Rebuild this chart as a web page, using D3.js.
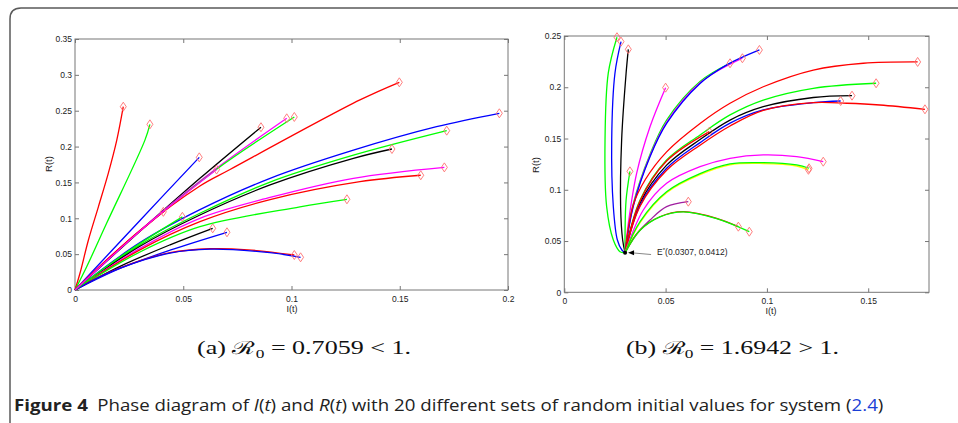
<!DOCTYPE html>
<html><head><meta charset="utf-8">
<script src="https://cdn.jsdelivr.net/npm/d3@7"></script>
<style>html,body{margin:0;padding:0;background:#fff;} svg{display:block;}</style>
</head><body>
<svg id="c" width="958" height="423"></svg>
<script>
// ---------- data ----------
const leftTicksX = [0, 0.05, 0.1, 0.15, 0.2];
const leftTicksY = [0, 0.05, 0.1, 0.15, 0.2, 0.25, 0.3, 0.35];
const rightTicksX = [0, 0.05, 0.1, 0.15];
const rightTicksY = [0, 0.05, 0.1, 0.15, 0.2, 0.25];

// panel (a): trajectories (I,R) from the initial value (diamond) to the origin
const leftColors = ["#ff0000","#00ff00","#0000ff","#000000","#ff00ff","#00ff00","#ff0000","#0000ff","#00ff00","#000000",
                    "#ff00ff","#ff0000","#00ff00","#000000","#0000ff","#ff0000","#0000ff","#ff0000","#00ff00","#ff00ff"];
const leftPaths = [
  [[0.0223,0.2556],[0.0193,0.209],[0.0154,0.163],[0.0108,0.116],[0.0062,0.0697],[0.0023,0.0233],[0,0]],
  [[0.0346,0.231],[0.0323,0.209],[0.0146,0.093],[0.0054,0.0325],[0,0]],
  [[0.0574,0.185],[0.03,0.097],[0,0]],
  [[0.0859,0.227],[0.0577,0.1557],[0.03,0.082],[0,0]],
  [[0.0978,0.2394],[0.0654,0.1697],[0.035,0.096],[0.012,0.035],[0,0]],
  [[0.1013,0.2413],[0.0654,0.1685],[0.035,0.095],[0.012,0.034],[0,0]],
  [[0.1498,0.2896],[0.1316,0.265],[0.0716,0.168],[0.0577,0.145],[0.03,0.083],[0,0]],
  [[0.196,0.2464],[0.167,0.2277],[0.1286,0.195],[0.0901,0.1557],[0.0577,0.112],[0.03,0.066],[0,0]],
  [[0.1717,0.2222],[0.1286,0.188],[0.0901,0.1505],[0.0577,0.107],[0.03,0.063],[0,0]],
  [[0.1464,0.1966],[0.1286,0.1836],[0.0901,0.1465],[0.0577,0.1046],[0.03,0.061],[0,0]],
  [[0.1706,0.171],[0.1286,0.1557],[0.0901,0.129],[0.0577,0.1],[0.03,0.058],[0,0]],
  [[0.1597,0.16],[0.1316,0.151],[0.0901,0.126],[0.0577,0.0953],[0.03,0.056],[0,0]],
  [[0.1256,0.1265],[0.1039,0.116],[0.0577,0.0883],[0.03,0.053],[0,0]],
  [[0.0636,0.086],[0.0439,0.063],[0.0208,0.033],[0,0]],
  [[0.0702,0.0805],[0.0439,0.0555],[0.0208,0.030],[0,0]],
  [[0.1013,0.0488],[0.08,0.056],[0.0624,0.0575],[0.0439,0.052],[0.0208,0.031],[0.0069,0.0118],[0,0]],
  [[0.1042,0.0456],[0.09,0.052],[0.0624,0.057],[0.0439,0.0515],[0.0208,0.0305],[0.0069,0.0115],[0,0]],
  [[0.0408,0.109],[0.02,0.056],[0,0]],
  [[0.0496,0.102],[0.025,0.055],[0,0]],
  [[0.0654,0.168],[0.035,0.095],[0,0]]
];

// panel (b): trajectories from the initial value (diamond) to the endemic equilibrium E*
const eqPoint = [0.0300, 0.0386];
const eqLabel = "(0.0307, 0.0412)";
const rightColors = ["#00ff00","#0000ff","#000000","#ff00ff","#00ff00","#a020a0","#00ff00","#ff00ff","#0000ff","#ff0000",
                     "#00ff00","#000000","#0000ff","#ff0000","#ff0000","#ff00ff","#ffff00","#00ff00","#ff0000","#00ff00"];
const rightPaths = [
  [[0.026,0.2488],[0.0217,0.2137],[0.0201,0.1486],[0.0209,0.0835],[0.0242,0.051],[0.0275,0.0396]],
  [[0.028,0.2445],[0.025,0.2137],[0.0234,0.1486],[0.0242,0.0835],[0.0262,0.051],[0.0285,0.041]],
  [[0.0316,0.237],[0.0305,0.2137],[0.0283,0.1486],[0.0278,0.0835],[0.0288,0.051]],
  [[0.050,0.1996],[0.0423,0.1615],[0.0357,0.116],[0.0316,0.0673]],
  [[0.0324,0.118],[0.0305,0.09],[0.0300,0.06]],
  [[0.0612,0.0884],[0.0505,0.0835],[0.0423,0.0705],[0.035,0.055]],
  [[0.0818,0.2234],[0.067,0.2057],[0.0505,0.168],[0.0423,0.1345],[0.034,0.086]],
  [[0.0879,0.2283],[0.067,0.2045],[0.0505,0.166],[0.0423,0.1332],[0.034,0.0845]],
  [[0.0963,0.2364],[0.0802,0.2218],[0.067,0.2037],[0.0505,0.1647],[0.0423,0.1322],[0.034,0.0835]],
  [[0.1744,0.2247],[0.1476,0.2234],[0.1229,0.2168],[0.0982,0.2005],[0.0818,0.1844],[0.067,0.1647],[0.0505,0.137],[0.04,0.11],[0.034,0.085]],
  [[0.1539,0.2039],[0.1229,0.199],[0.0982,0.1875],[0.0818,0.173],[0.067,0.1535],[0.0505,0.129],[0.0374,0.09]],
  [[0.142,0.1918],[0.1229,0.19],[0.0982,0.181],[0.0818,0.168],[0.067,0.149],[0.0505,0.124],[0.0374,0.087]],
  [[0.1364,0.1866],[0.1229,0.185],[0.0982,0.1779],[0.0818,0.165],[0.067,0.146],[0.0505,0.121],[0.0374,0.085]],
  [[0.178,0.1785],[0.1558,0.1827],[0.1394,0.1844],[0.1229,0.185],[0.0982,0.1775],[0.0818,0.1622],[0.067,0.1435],[0.0505,0.119],[0.0374,0.084]],
  [[0.0716,0.1567],[0.0505,0.128],[0.0374,0.089]],
  [[0.1278,0.1274],[0.1147,0.1323],[0.0982,0.134],[0.0818,0.1307],[0.067,0.1225],[0.0505,0.1063],[0.039,0.0803]],
  [[0.1205,0.1195],[0.1147,0.1232],[0.0982,0.1256],[0.0818,0.1244],[0.067,0.1148],[0.0505,0.0972],[0.0374,0.068]],
  [[0.1208,0.121],[0.1147,0.1242],[0.0982,0.1264],[0.0818,0.1252],[0.067,0.1157],[0.0505,0.098],[0.0374,0.0689]],
  [[0.0859,0.064],[0.0752,0.0722],[0.0587,0.0786],[0.0472,0.0737],[0.0374,0.0607]],
  [[0.0913,0.0591],[0.0752,0.0718],[0.0587,0.0784],[0.0472,0.0735],[0.0374,0.0605]]
];

const subCaptionA = {label:"(a)", value:"= 0.7059 < 1."};
const subCaptionB = {label:"(b)", value:"= 1.6942 > 1."};

// ---------- drawing ----------
const svg = d3.select("#c");
const AX = "#777";
const tickFont = "'Liberation Sans', Arial, sans-serif";

// outer frame
svg.append("path")
  .attr("d","M10,423 L10,19 Q10,8 21,8 L958,8")
  .attr("fill","none").attr("stroke","#5a5a5a").attr("stroke-width",1.5);

function diamond(w,h){ return `M0,${-h} L${w},0 L0,${h} L${-w},0 Z`; }

function panel(opt){
  const x = d3.scaleLinear().domain(opt.xDom).range(opt.xR);
  const y = d3.scaleLinear().domain(opt.yDom).range(opt.yR);
  const g = svg.append("g");
  const [x0,x1] = opt.xR, [y0,y1] = opt.yR;

  g.append("rect").attr("x",x0).attr("y",y1).attr("width",x1-x0).attr("height",y0-y1)
    .attr("fill","#fff").attr("stroke",AX).attr("stroke-width",1);

  const styleAxis = s => { s.select(".domain").remove();
    s.selectAll("line").attr("stroke",AX);
    s.selectAll("text").attr("font-family",tickFont).attr("font-size","8.5px").attr("fill","#222"); };

  g.append("g").attr("transform",`translate(0,${y0})`)
    .call(d3.axisBottom(x).tickValues(opt.xt).tickFormat(d=>String(d)).tickSize(-4).tickPadding(6)).call(styleAxis);
  g.append("g").attr("transform",`translate(0,${y1})`)
    .call(d3.axisTop(x).tickValues(opt.xt).tickFormat("").tickSize(-4)).call(styleAxis);
  g.append("g").attr("transform",`translate(${x0},0)`)
    .call(d3.axisLeft(y).tickValues(opt.yt).tickFormat(d=>String(d)).tickSize(-4).tickPadding(3)).call(styleAxis);
  g.append("g").attr("transform",`translate(${x1},0)`)
    .call(d3.axisRight(y).tickValues(opt.yt).tickFormat("").tickSize(-4)).call(styleAxis);

  g.append("text").attr("x",opt.xlab[0]).attr("y",opt.xlab[1]).attr("text-anchor","middle")
    .attr("font-family",tickFont).attr("font-size","9px").attr("fill","#222").text("I(t)");
  g.append("text").attr("transform",`translate(${opt.ylab[0]},${opt.ylab[1]}) rotate(-90)`).attr("text-anchor","middle")
    .attr("font-family",tickFont).attr("font-size","9.5px").attr("fill","#222").text("R(t)");

  const line = d3.line().x(d=>x(d[0])).y(d=>y(d[1])).curve(d3.curveCatmullRom.alpha(0.5));
  opt.paths.forEach((p,i)=>{
    const pts = opt.end ? p.concat([opt.end]) : p;
    g.append("path").attr("d",line(pts)).attr("fill","none")
      .attr("stroke",opt.colors[i]).attr("stroke-width",1.3);
  });
  opt.paths.forEach((p)=>{
    g.append("path").attr("d",diamond(3,4.5)).attr("transform",`translate(${x(p[0][0])},${y(p[0][1])})`)
      .attr("fill","none").attr("stroke","#ff7070").attr("stroke-width",0.9);
  });
  return {x,y,g};
}

panel({xDom:[0,0.2], yDom:[0,0.35], xR:[75,508], yR:[290,39], xt:leftTicksX, yt:leftTicksY,
  paths:leftPaths, colors:leftColors, end:null, xlab:[292,312], ylab:[52,164]});

const R = panel({xDom:[0,0.18], yDom:[0,0.25], xR:[564.3,929], yR:[292.3,36], xt:rightTicksX, yt:rightTicksY,
  paths:rightPaths, colors:rightColors, end:eqPoint, xlab:[771,314], ylab:[539,165]});

// equilibrium marker & annotation
const ex = R.x(eqPoint[0]), ey = R.y(eqPoint[1]);
R.g.append("circle").attr("cx",ex).attr("cy",ey).attr("r",2).attr("fill","#000");
R.g.append("line").attr("x1",ex+26).attr("y1",ey+1.8).attr("x2",ex+8).attr("y2",ey+0.2)
  .attr("stroke","#888").attr("stroke-width",1);
R.g.append("path").attr("d",`M${ex+3},${ey} L${ex+9},${ey-2.5} L${ex+9},${ey+2.5} Z`).attr("fill","#000");
const et = R.g.append("text").attr("x",ex+32).attr("y",ey+2.5)
  .attr("font-family",tickFont).attr("font-size","8.5px").attr("fill","#222");
et.append("tspan").text("E");
et.append("tspan").attr("dy",-3.5).attr("font-size","6px").text("*");
et.append("tspan").attr("dy",3.5).text(eqLabel);

// sub captions
function subCap(cx, cap){
  const t = svg.append("text").attr("x",0).attr("y",0)
    .attr("font-family","'Liberation Serif', 'DejaVu Serif', serif").attr("font-size","18px").attr("fill","#111");
  t.append("tspan").text(cap.label + " ");
  t.append("tspan").text("ℛ");
  t.append("tspan").attr("dy",4).attr("font-size","12px").text("0");
  t.append("tspan").attr("dy",-4).text(" " + cap.value);
  const w = t.node().getComputedTextLength();
  const target = 214;
  const s = target / w;
  t.attr("transform",`translate(${cx - target/2},354) scale(${s},1)`);
}
subCap(304, subCaptionA);
subCap(733, subCaptionB);

// figure caption
const cap = svg.append("text").attr("x",0).attr("y",0)
  .attr("font-family","'Open Sans', 'Noto Sans', sans-serif").attr("font-size","16px").attr("fill","#222");
cap.append("tspan").attr("font-weight","bold").text("Figure 4");
cap.append("tspan").text("\u2002Phase diagram of ");
cap.append("tspan").attr("font-style","italic").text("I");
cap.append("tspan").text("(");
cap.append("tspan").attr("font-style","italic").text("t");
cap.append("tspan").text(") and ");
cap.append("tspan").attr("font-style","italic").text("R");
cap.append("tspan").text("(");
cap.append("tspan").attr("font-style","italic").text("t");
cap.append("tspan").text(") with 20 different sets of random initial values for system (");
cap.append("tspan").attr("fill","#1a3fd6").text("2.4");
cap.append("tspan").text(")");
{
  const w = cap.node().getComputedTextLength();
  const target = 870;
  cap.attr("transform",`translate(14,411) scale(${target/w},1)`);
}
</script>
</body></html>
